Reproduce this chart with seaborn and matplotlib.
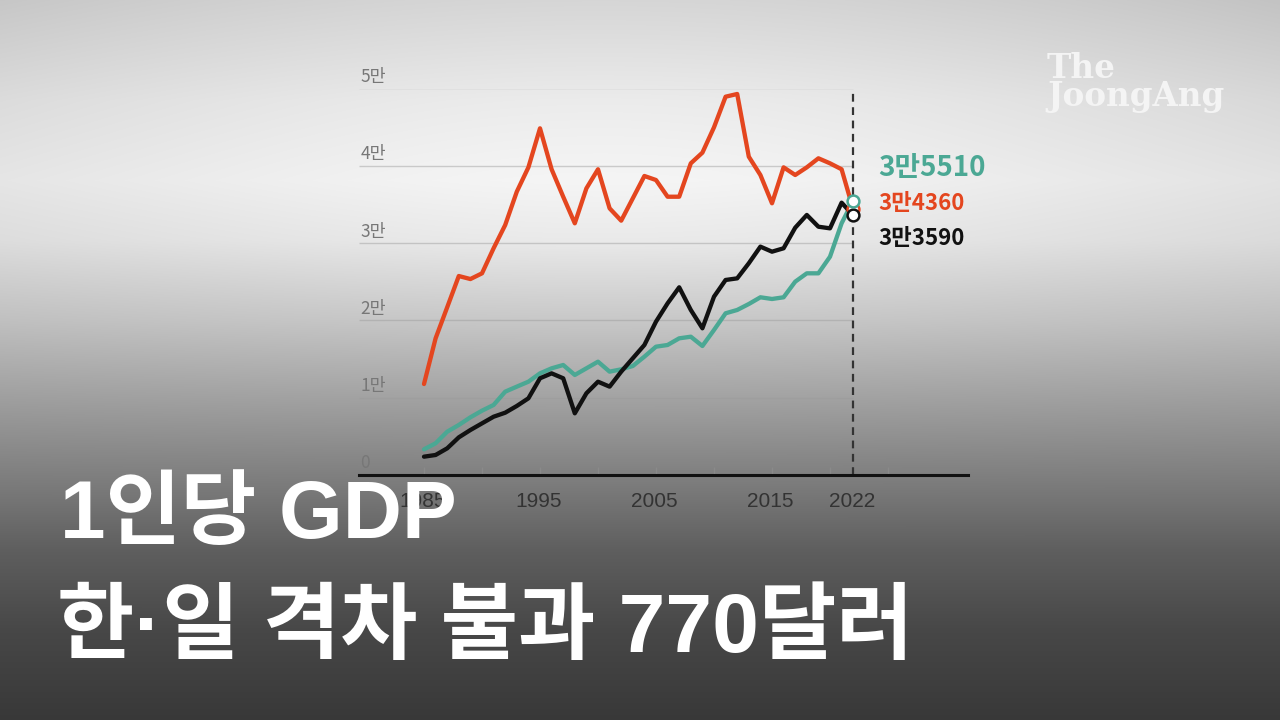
import numpy as np
import pandas as pd
import matplotlib
matplotlib.use("Agg")
import matplotlib.pyplot as plt
import seaborn as sns

# ---------------- data ----------------
years = list(range(1985, 2023))
japan = [11770, 17680, 21700, 25740, 25350, 26090, 29330, 32340, 36650, 39800,
         44850, 39550, 36000, 32560, 37080, 39550, 34500, 32900, 35790, 38680,
         38160, 36000, 36000, 40320, 41700, 44980, 48940, 49290, 41180, 38810,
         35150, 39800, 38810, 39800, 40970, 40320, 39550, 34360]
korea = [2370, 2590, 3450, 4870, 5820, 6680, 7540, 8060, 8930, 9920,
         12510, 13150, 12510, 7980, 10570, 12070, 11430, 13370, 15100, 16820,
         19840, 22210, 24280, 21350, 18980, 23070, 25230, 25440, 27390, 29540,
         28890, 29330, 31990, 33640, 32120, 31910, 35230, 33590]
taiwan = [3320, 4100, 5600, 6470, 7460, 8320, 9060, 10780, 11430, 12070,
          13150, 13800, 14230, 12940, 13800, 14660, 13370, 13670, 14100, 15310,
          16600, 16820, 17680, 17890, 16690, 18760, 20920, 21350, 22120, 22990,
          22770, 22990, 25010, 26090, 26090, 28240, 32560, 35510]
series_colors = {"일본": "#E4461F", "한국": "#111111", "대만": "#4BA894"}
end_labels = ["3만5510", "3만4360", "3만3590"]
y_ticks = [0, 10000, 20000, 30000, 40000, 50000]
y_ticklabels = ["0", "1만", "2만", "3만", "4만", "5만"]
x_ticks = [1985, 1990, 1995, 2000, 2005, 2010, 2015, 2020, 2025]
x_label_years = [1985, 1995, 2005, 2015, 2022]
title1 = "1인당 GDP"
title2 = "한·일 격차 불과 770달러"
logo = "The\nJoongAng"

df = pd.DataFrame({
    "year": years * 3,
    "gdp": japan + korea + taiwan,
    "country": ["일본"] * len(years) + ["한국"] * len(years) + ["대만"] * len(years),
})

sns.set_theme(style="white")
plt.rcParams["font.family"] = ["Noto Sans CJK KR", "DejaVu Sans"]

fig = plt.figure(figsize=(12.8, 7.2), dpi=100)

# ---------------- background gradient ----------------
H, W = 720, 1280
yy, xx = np.mgrid[0:H, 0:W]
ky = [0, 100, 180, 240, 320, 400, 475, 550, 630, 720]
kv = [0.83, 0.90, 0.93, 0.89, 0.77, 0.63, 0.50, 0.37, 0.28, 0.22]
B = np.interp(yy, ky, kv)
B = B - 0.07 * ((xx - 600) / 700.0) ** 2 * np.clip(1 - yy / 500.0, 0, 1)
B = B + 0.03 * np.exp(-((xx - 600) / 420.0) ** 2 - ((yy - 180) / 160.0) ** 2)
B = np.clip(B, 0, 1)
bg = fig.add_axes([0, 0, 1, 1], zorder=-10)
bg.imshow(np.dstack([B, B, B]), aspect="auto", extent=[0, 1, 0, 1])
bg.axis("off")

# ---------------- main axes ----------------
x0_px, x1_px = 359, 968
y0_px, ytop_px = 475, 88.5
ax = fig.add_axes([x0_px / W, (H - y0_px) / H, (x1_px - x0_px) / W, (y0_px - ytop_px) / H])
ax.patch.set_alpha(0)
px_per_year = 11.6
xmin = 1985 - (424 - x0_px) / px_per_year
xmax = 1985 + (x1_px - 424) / px_per_year
ax.set_xlim(xmin, xmax)
ax.set_ylim(0, 50000)

# gridlines
ax.hlines(y_ticks[1:], xmin, 2022, colors="#9a9a9a", linewidth=1.0, alpha=0.45, zorder=1)
# y labels above gridlines
for v, lab in zip(y_ticks, y_ticklabels):
    ax.annotate(lab, xy=(xmin, v), xytext=(1, 1.8), textcoords="offset points",
                ha="left", va="bottom", fontsize=12.5, color="#777777",
                annotation_clip=False)

# dashed line at 2022
ax.vlines(2022, 0, 50000, colors="#333333", linewidth=1.6,
          linestyles=(0, (3.5, 2.5)), zorder=2)

sns.lineplot(data=df, x="year", y="gdp", hue="country", hue_order=["일본", "대만", "한국"],
             palette=series_colors, linewidth=3.1, legend=False, ax=ax, zorder=3)

# end markers
for name, vals in [("일본", japan), ("한국", korea), ("대만", taiwan)]:
    ax.plot([years[-1]], [vals[-1]], marker="o", markersize=8.5, markerfacecolor="white",
            markeredgecolor=series_colors[name], markeredgewidth=1.8, zorder=5, linestyle="none")

# axes styling
for s in ["left", "right", "top"]:
    ax.spines[s].set_visible(False)
ax.spines["bottom"].set_color("#111111")
ax.spines["bottom"].set_linewidth(2.2)
ax.set_yticks([])
ax.set_xticks(x_ticks)
ax.set_xticklabels([""] * len(x_ticks))
ax.tick_params(axis="x", direction="in", length=6, width=1, color="#8a8a8a",
               bottom=True, pad=0)
for yr in x_label_years:
    ax.annotate(str(yr), xy=(yr, 0), xytext=(-1, -12), textcoords="offset points",
                ha="center", va="top", fontsize=15, color="#333333",
                annotation_clip=False, family=["Liberation Sans", "DejaVu Sans"])
ax.set_xlabel("")
ax.set_ylabel("")

# end labels
fig.text(878 / W, 1 - 168 / H, end_labels[0], color=series_colors["대만"], fontsize=20,
         fontweight="bold", ha="left", va="center")
fig.text(878 / W, 1 - 204 / H, end_labels[1], color=series_colors["일본"], fontsize=16,
         fontweight="bold", ha="left", va="center")
fig.text(878 / W, 1 - 239 / H, end_labels[2], color=series_colors["한국"], fontsize=16,
         fontweight="bold", ha="left", va="center")

# titles
title_family = ["Liberation Sans", "Noto Sans CJK KR"]
fig.text(60 / W, 1 - 538 / H, title1, color="white", fontsize=59, fontweight="bold",
         ha="left", va="baseline", zorder=10, family=title_family)
fig.text(57 / W, 1 - 652 / H, title2, color="white", fontsize=60.5, fontweight="bold",
         ha="left", va="baseline", zorder=10, family=title_family)

# logo
fig.text(1047 / W, 1 - 106 / H, logo, color="#f4f4f4", fontsize=23.5, fontweight="bold",
         ha="left", va="baseline", linespacing=0.8, multialignment="left",
         family=["DejaVu Serif"])

fig.savefig("out.png", dpi=100)
